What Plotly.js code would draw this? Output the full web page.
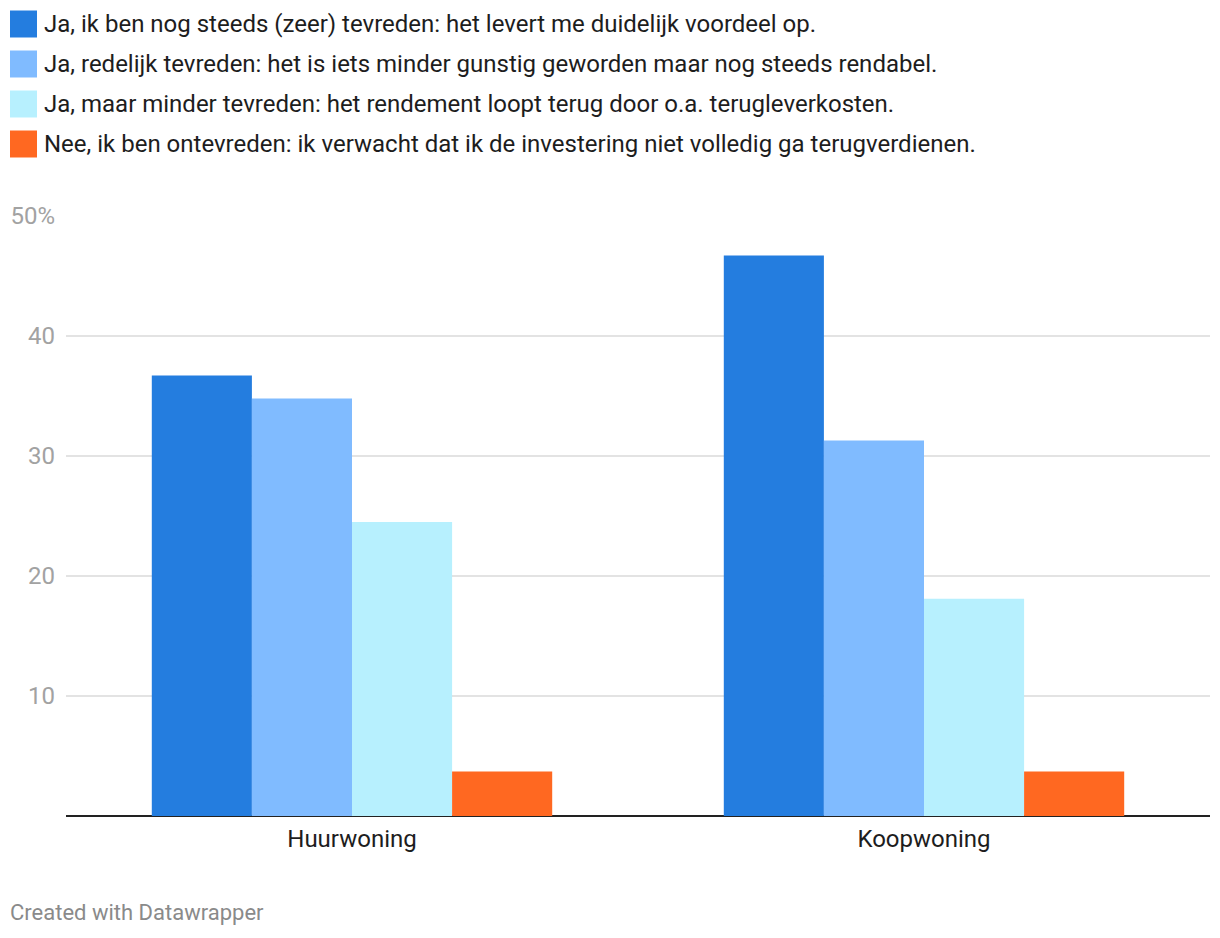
<!DOCTYPE html>
<html>
<head>
<meta charset="utf-8">
<script src="https://cdn.plot.ly/plotly-3.0.1.min.js"></script>
<style>html,body{margin:0;padding:0;background:#fff;}#chart{width:1220px;height:938px;}</style>
</head>
<body>
<div id="chart"></div>
<script>
const categories = ["Huurwoning", "Koopwoning"];
const seriesNames = [
  "Ja, ik ben nog steeds (zeer) tevreden: het levert me duidelijk voordeel op.",
  "Ja, redelijk tevreden: het is iets minder gunstig geworden maar nog steeds rendabel.",
  "Ja, maar minder tevreden: het rendement loopt terug door o.a. terugleverkosten.",
  "Nee, ik ben ontevreden: ik verwacht dat ik de investering niet volledig ga terugverdienen."
];
const seriesValues = [
  [36.7, 46.7],
  [34.8, 31.3],
  [24.5, 18.1],
  [3.7, 3.7]
];
const seriesColors = ["#247ddf", "#80bbff", "#b7f0fe", "#ff6821"];
const tickVals = [10, 20, 30, 40, 50];
const tickText = ["10", "20", "30", "40", "50%"];

const W = 1220, H = 938;
const M = {l: 66, r: 10, t: 216, b: 122};
const PW = W - M.l - M.r, PH = H - M.t - M.b;
const px = x => (x - M.l) / PW;
const py = y => (H - M.b - y) / PH;

const traces = seriesNames.map((n, i) => ({
  type: "bar",
  name: n,
  x: categories,
  y: seriesValues[i],
  marker: {color: seriesColors[i], line: {width: 0}},
  hoverinfo: "x+y+name",
  showlegend: false
}));

const shapes = [];
const annotations = [];
seriesNames.forEach((n, i) => {
  const cy = 24 + i * 40;
  shapes.push({type: "rect", xref: "paper", yref: "paper",
    x0: px(10), x1: px(37), y0: py(cy - 13.5), y1: py(cy + 13.5),
    fillcolor: seriesColors[i], line: {width: 0}, layer: "above"});
  annotations.push({xref: "paper", yref: "paper", x: px(42), y: py(cy),
    xanchor: "left", yanchor: "middle", showarrow: false, text: n,
    font: {family: "Roboto", size: 24, color: "#1d1d1d"}});
});
annotations.push({xref: "paper", yref: "paper", x: px(8), y: py(912),
  xanchor: "left", yanchor: "middle", showarrow: false, text: "Created with Datawrapper",
  font: {family: "Roboto", size: 22, color: "#8a8a8a"}});

const layout = {
  width: W, height: H,
  margin: M,
  paper_bgcolor: "#fff", plot_bgcolor: "#fff",
  font: {family: "Roboto", size: 24, color: "#1d1d1d"},
  barmode: "group", bargap: 0.3, bargroupgap: 0,
  xaxis: {type: "category", showgrid: false, showline: false, zeroline: false, ticks: "",
    ticklabelstandoff: 6,
    tickfont: {family: "Roboto", size: 24, color: "#1d1d1d"}, fixedrange: true},
  yaxis: {range: [0, 50], tickvals: tickVals, ticktext: tickText, showgrid: true,
    gridcolor: "#e3e3e3", gridwidth: 2, zeroline: true, zerolinecolor: "#222", zerolinewidth: 2,
    showline: false, ticks: "", ticklabelstandoff: 10,
    tickfont: {family: "Roboto", size: 24, color: "#a2a2a2"}, fixedrange: true},
  shapes: shapes,
  annotations: annotations,
  showlegend: false
};

Plotly.newPlot("chart", traces, layout, {displayModeBar: false, staticPlot: false});
</script>
</body>
</html>
